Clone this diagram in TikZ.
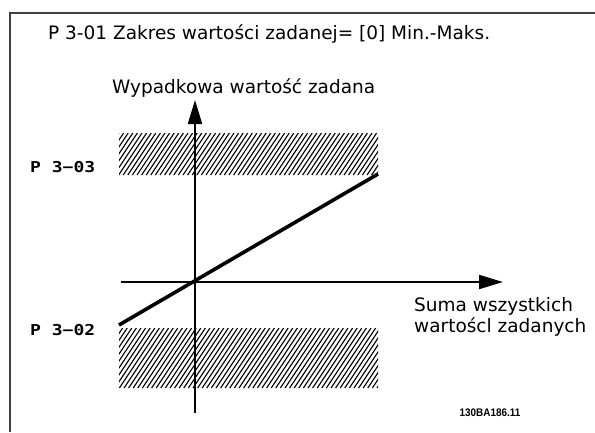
\documentclass[tikz,border=0pt]{standalone}
\usepackage{fontspec}
\setmainfont{DejaVu Sans}
\newfontfamily\monof{DejaVu Sans Mono}
\newfontfamily\codef{Liberation Sans}
\usetikzlibrary{arrows.meta}
\begin{document}
\begin{tikzpicture}[x=1pt,y=-1pt,
  lbl/.style={inner sep=0pt, font=\fontsize{18.5}{21}\selectfont},
  plbl/.style={inner sep=0pt, font=\monof\bfseries\fontsize{15}{15}\selectfont},
  axisline/.style={line width=2pt, -{Triangle[length=24pt,width=14pt]}},
  refline/.style={line width=3.6pt},
  hatchline/.style={line width=1.1pt},
  frameline/.style={line width=2pt, draw=black!75}]
\useasboundingbox (0,0) rectangle (595,432);
\fill[white] (0,0) rectangle (595,432);
% frame
\coordinate (fr) at (595,12.5);
\coordinate (fc) at (9.5,12.5);
\coordinate (fb) at (9.5,432);
\draw[frameline] (fr) -- (fc) -- (fb);
% hatched bands
\begin{scope}
  \clip (119,133) rectangle (378,175);
  \foreach \x in {0,4.6,...,292} \draw[hatchline] (91+\x,175) -- ++(28,-42);
\end{scope}
\begin{scope}
  \clip (119,328) rectangle (378,388);
  \foreach \x in {0,4.6,...,302} \draw[hatchline] (78+\x,388) -- ++(40,-60);
\end{scope}
% axes
\coordinate (yb) at (195,413);
\coordinate (yt) at (195,100);
\coordinate (xl) at (121,282);
\coordinate (xr) at (503,282);
\draw[axisline] (yb) -- (yt);
\draw[axisline] (xl) -- (xr);
% reference line
\coordinate (ls) at (119,325);
\coordinate (le) at (378,174);
\draw[refline] (ls) -- (le);
% labels
\node[lbl, anchor=base west] (title) at (48,39) {P 3-01 Zakres wartości zadanej= [0] Min.-Maks.};
\node[lbl, anchor=base west] (ylabel) at (112,93) {Wypadkowa wartość zadana};
\node[lbl, anchor=north west, align=left] (xlabel) at (414,297) {Suma wszystkich\\wartoścl zadanych};
\node[plbl, anchor=west] (p303) at (30,167.5) {\scalebox{1.2}[1]{P 3−03}};
\node[plbl, anchor=west] (p302) at (30,330) {\scalebox{1.2}[1]{P 3−02}};
\node[inner sep=0pt, font=\codef\bfseries\fontsize{11}{11}\selectfont] (code) at (490,413) {\scalebox{0.9}[1]{130BA186.11}};
\end{tikzpicture}
\end{document}
